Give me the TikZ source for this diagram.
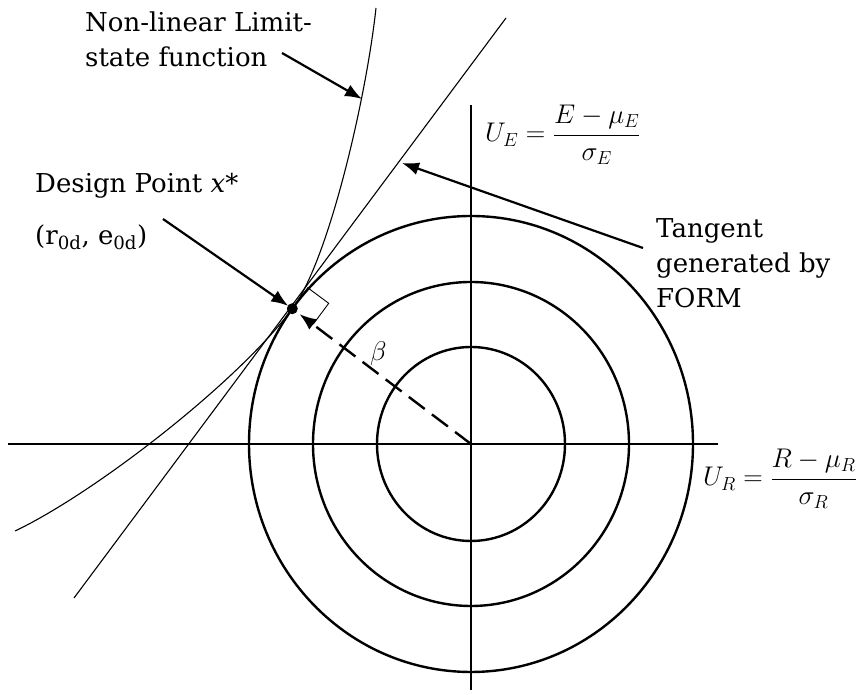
\RequirePackage{fix-cm}
\documentclass[tikz,border=0pt]{standalone}
\usepackage{amsmath}
\usepackage{fontspec}
\setmainfont{DejaVu Serif}
\usetikzlibrary{arrows.meta}

\begin{document}
\begin{tikzpicture}[x=1pt,y=1pt,
  ptr/.style={line width=2.2pt,-{Latex[length=17pt,width=13pt]}},
  ring/.style={line width=2.4pt},
  axis/.style={line width=1.5pt},
  thinline/.style={line width=1.1pt},
  lbl/.style={inner sep=0pt,anchor=base west,align=left,font=\fontsize{26}{35}\selectfont},
  eqn/.style={inner sep=0pt,anchor=base west,font=\fontsize{27}{32}\selectfont}]
\useasboundingbox (0,0) rectangle (863,695);
\coordinate (ctr) at (471,251);
\coordinate (xstar) at ([shift={(143.6:222 and 228)}]ctr);
\draw[axis] (8,251) -- (718,251);
\draw[axis] (471,590) -- (471,5);
\draw[ring] (ctr) ellipse (94 and 97);
\draw[ring] (ctr) ellipse (158 and 162);
\draw[ring] (ctr) ellipse (222 and 228);
\draw[thinline] (74,97) -- (506,677);
\draw[thinline] (15,164) .. controls (95,202) and (238,313) .. (xstar)
  .. controls (328,433) and (366,595) .. (376,687);
\draw[line width=0.9pt] (xstar) -- ++(15.5,20.9) -- ++(20.9,-15.5) -- ++(-15.5,-20.9);
\draw[ring,dash pattern=on 20pt off 9pt,shorten >=9pt,-{Latex[length=17pt,width=13pt]}] (ctr) -- (xstar);
\fill (xstar) circle (5.5);
\node[eqn] (beta) at (370,334) {$\beta$};
\node[lbl] (lsf) at (85,628) {Non-linear Limit-\\state function};
\node[lbl] (dp) at (35,502) {Design Point \textit{x}*};
\node[lbl] (dpval) at (35,450) {(r\textsubscript{0d}, e\textsubscript{0d})};
\node[lbl] (tg) at (656,387) {Tangent\\generated by\\FORM};
\node[eqn] (ue) at (485,553) {$U_E=\dfrac{E-\mu_E}{\sigma_E}$};
\node[eqn] (ur) at (703,209) {$U_R=\dfrac{R-\mu_R}{\sigma_R}$};
\coordinate (lsfa) at (282,642);
\coordinate (lsfb) at (362,596);
\coordinate (dpa) at (163,476);
\coordinate (tga) at (643,447);
\coordinate (tgb) at (402,532);
\draw[ptr] (lsfa) -- (lsfb);
\draw[ptr,shorten >=5pt] (dpa) -- (xstar);
\draw[ptr] (tga) -- (tgb);
\end{tikzpicture}
\end{document}
